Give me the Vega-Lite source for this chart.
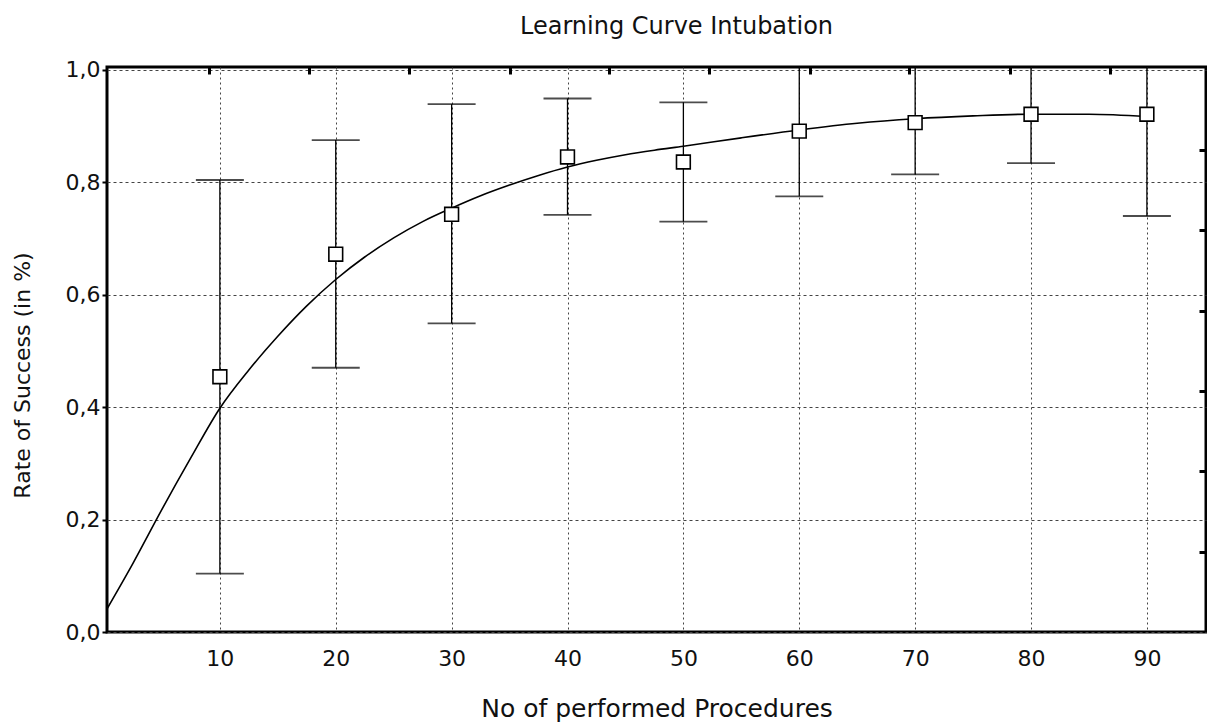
{
  "$schema": "https://vega.github.io/schema/vega-lite/v6.json",
  "width": 1099,
  "height": 565,
  "autosize": {"type": "none"},
  "padding": {"left": 107, "top": 67, "right": 1, "bottom": 93},
  "background": "white",
  "title": {
    "text": "Learning Curve Intubation",
    "font": "DejaVu Sans",
    "fontSize": 24,
    "fontWeight": "normal",
    "color": "#111111",
    "anchor": "middle",
    "dx": 20,
    "baseline": "alphabetic",
    "offset": 1
  },
  "config": {
    "view": {"stroke": "black", "strokeWidth": 3},
    "font": "DejaVu Sans"
  },
  "datasets": {
    "points": [
      {"n": 10, "rate": 0.454, "lower": 0.104, "upper": 0.804},
      {"n": 20, "rate": 0.672, "lower": 0.470, "upper": 0.875},
      {"n": 30, "rate": 0.743, "lower": 0.549, "upper": 0.939},
      {"n": 40, "rate": 0.845, "lower": 0.742, "upper": 0.949},
      {"n": 50, "rate": 0.836, "lower": 0.730, "upper": 0.942},
      {"n": 60, "rate": 0.891, "lower": 0.775, "upper": 1.02},
      {"n": 70, "rate": 0.906, "lower": 0.814, "upper": 1.02},
      {"n": 80, "rate": 0.921, "lower": 0.834, "upper": 1.02},
      {"n": 90, "rate": 0.921, "lower": 0.740, "upper": 1.10}
    ],
    "curve": [
      {"n": 0.26, "fit": 0.041},
      {"n": 2.5, "fit": 0.122},
      {"n": 5, "fit": 0.218},
      {"n": 7.5, "fit": 0.310},
      {"n": 10, "fit": 0.398},
      {"n": 12.5, "fit": 0.466},
      {"n": 15, "fit": 0.526},
      {"n": 17.5, "fit": 0.580},
      {"n": 20, "fit": 0.627},
      {"n": 22.5, "fit": 0.667},
      {"n": 25, "fit": 0.701},
      {"n": 27.5, "fit": 0.730},
      {"n": 30, "fit": 0.754},
      {"n": 32.5, "fit": 0.776},
      {"n": 35, "fit": 0.795},
      {"n": 37.5, "fit": 0.812},
      {"n": 40, "fit": 0.827},
      {"n": 42.5, "fit": 0.839},
      {"n": 45, "fit": 0.849},
      {"n": 47.5, "fit": 0.857},
      {"n": 50, "fit": 0.864},
      {"n": 55, "fit": 0.879},
      {"n": 60, "fit": 0.893},
      {"n": 65, "fit": 0.905},
      {"n": 70, "fit": 0.913},
      {"n": 75, "fit": 0.918},
      {"n": 80, "fit": 0.921},
      {"n": 85, "fit": 0.921},
      {"n": 90, "fit": 0.917}
    ]
  },
  "resolve": {"axis": {"x": "independent", "y": "independent"}},
  "layer": [
    {
      "data": {"name": "points"},
      "mark": {"type": "rule", "clip": true, "color": "black", "strokeWidth": 1.3},
      "encoding": {
        "x": {
          "field": "n", "type": "quantitative",
          "scale": {"domain": [0.26, 95.1], "nice": false, "zero": false},
          "axis": {
            "orient": "bottom",
            "values": [10, 20, 30, 40, 50, 60, 70, 80, 90],
            "domain": false,
            "ticks": false,
            "grid": true,
            "gridColor": "#444444",
            "gridDash": [2, 3],
            "gridWidth": 1,
            "labelFont": "DejaVu Sans",
            "labelFontSize": 22,
            "labelColor": "#111111",
            "labelPadding": 16,
            "title": "No of performed Procedures",
            "titleFont": "DejaVu Sans",
            "titleFontSize": 25,
            "titleFontWeight": "normal",
            "titleColor": "#111111",
            "titleBaseline": "alphabetic",
            "titleY": 84
          }
        },
        "y": {
          "field": "lower", "type": "quantitative",
          "scale": {"domain": [0, 1.005], "nice": false, "zero": false},
          "axis": {
            "orient": "left",
            "values": [0, 0.2, 0.4, 0.6, 0.8, 1.0],
            "labelExpr": "replace(format(datum.value, '.1f'), '.', ',')",
            "domain": false,
            "ticks": true,
            "tickSize": 5,
            "tickWidth": 2,
            "tickColor": "black",
            "grid": true,
            "gridColor": "#444444",
            "gridDash": [3, 3],
            "gridWidth": 1,
            "labelFont": "DejaVu Sans",
            "labelFontSize": 22,
            "labelColor": "#111111",
            "labelPadding": 2,
            "title": "Rate of Success (in %)",
            "titleFont": "DejaVu Sans",
            "titleFontSize": 22,
            "titleFontWeight": "normal",
            "titleColor": "#111111",
            "titleAngle": -90,
            "titleBaseline": "middle",
            "titleAlign": "center",
            "titleX": -85,
            "titleY": 308
          }
        },
        "y2": {"field": "upper"}
      }
    },
    {
      "data": {"name": "points"},
      "mark": {"type": "tick", "orient": "horizontal", "size": 48, "thickness": 1.8, "color": "black", "clip": true},
      "encoding": {
        "x": {"field": "n", "type": "quantitative", "axis": null},
        "y": {"field": "lower", "type": "quantitative", "axis": null}
      }
    },
    {
      "data": {"name": "points"},
      "mark": {"type": "tick", "orient": "horizontal", "size": 48, "thickness": 1.8, "color": "black", "clip": true},
      "encoding": {
        "x": {"field": "n", "type": "quantitative", "axis": null},
        "y": {"field": "upper", "type": "quantitative", "axis": null}
      }
    },
    {
      "data": {"name": "curve"},
      "mark": {"type": "line", "color": "black", "strokeWidth": 1.6, "interpolate": "monotone", "clip": true},
      "encoding": {
        "x": {"field": "n", "type": "quantitative", "axis": null},
        "y": {"field": "fit", "type": "quantitative", "axis": null}
      }
    },
    {
      "data": {"name": "points"},
      "mark": {"type": "point", "shape": "square", "size": 190, "filled": true, "fill": "white", "stroke": "black", "strokeWidth": 1.6, "opacity": 1},
      "encoding": {
        "x": {"field": "n", "type": "quantitative", "axis": null},
        "y": {"field": "rate", "type": "quantitative", "axis": null}
      }
    },
    {
      "data": {"name": "points"},
      "mark": {"type": "point", "opacity": 0},
      "encoding": {
        "x": {
          "field": "n", "type": "quantitative",
          "axis": {
            "orient": "top",
            "values": [9.1, 17.7, 26.3, 35.0, 43.6, 52.2, 60.9, 69.5, 78.2, 86.8],
            "labels": false,
            "domain": false,
            "grid": false,
            "ticks": true,
            "tickSize": -7,
            "tickWidth": 3,
            "tickColor": "black",
            "title": null
          }
        },
        "y": {
          "field": "rate", "type": "quantitative",
          "axis": {
            "orient": "right",
            "values": [0.1429, 0.2857, 0.4286, 0.5714, 0.7143, 0.8571],
            "labels": false,
            "domain": false,
            "grid": false,
            "ticks": true,
            "tickSize": -7,
            "tickWidth": 3,
            "tickColor": "black",
            "title": null
          }
        }
      }
    }
  ]
}
